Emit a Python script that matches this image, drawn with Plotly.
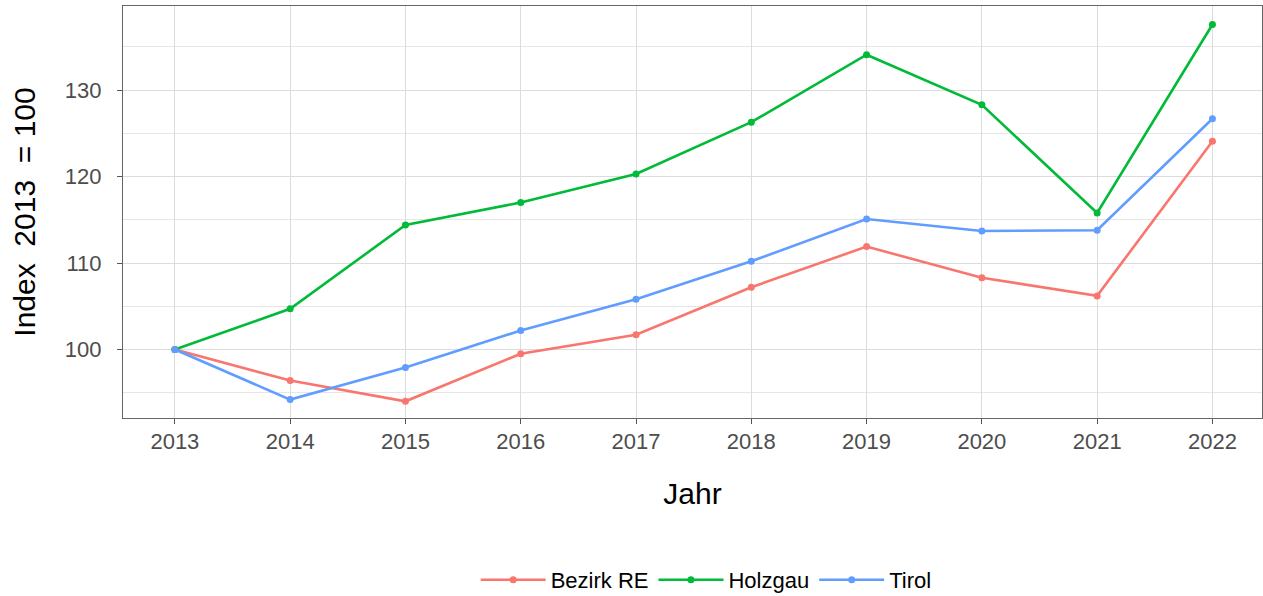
import plotly.graph_objects as go

years = [2013, 2014, 2015, 2016, 2017, 2018, 2019, 2020, 2021, 2022]
bezirk_re = [100, 96.4, 94.0, 99.5, 101.7, 107.2, 111.9, 108.3, 106.2, 124.1]
holzgau = [100, 104.7, 114.4, 117.0, 120.3, 126.3, 134.1, 128.3, 115.8, 137.6]
tirol = [100, 94.2, 97.9, 102.2, 105.8, 110.2, 115.1, 113.7, 113.8, 126.7]

series = [("Bezirk RE", bezirk_re, "#F8766D"),
          ("Holzgau", holzgau, "#00BA38"),
          ("Tirol", tirol, "#619CFF")]

font = "Liberation Sans, Arial, sans-serif"
fig = go.Figure()
for name, vals, col in series:
    fig.add_trace(go.Scatter(x=years, y=vals, name=name, mode="lines+markers",
                             line=dict(color=col, width=2.6),
                             marker=dict(color=col, size=7)))

fig.update_layout(
    width=1263, height=596,
    margin=dict(l=123, r=1, t=6, b=178),
    paper_bgcolor="white", plot_bgcolor="white",
    font=dict(family=font, color="#4D4D4D", size=22),
    showlegend=True,
    legend=dict(orientation="h", x=0.512, xanchor="center",
                yref="container", y=16 / 596, yanchor="middle",
                font=dict(size=22, color="black"), itemwidth=65),
    xaxis=dict(range=[2012.55, 2022.43], tickvals=years, ticktext=[str(y) for y in years],
               showgrid=True, gridcolor="#DCDCDC", gridwidth=1,
               showline=True, linecolor="#666666", linewidth=1.2, mirror=True,
               ticks="outside", ticklen=5, tickcolor="#555555",
               tickfont=dict(size=22, color="#4D4D4D"), zeroline=False,
               ticklabelstandoff=-2,
               title=dict(text="Jahr", font=dict(size=30, color="black"), standoff=30)),
    yaxis=dict(range=[92.07, 139.74], tickvals=[100, 110, 120, 130],
               showgrid=True, gridcolor="#DCDCDC", gridwidth=1,
               minor=dict(tickvals=[95, 105, 115, 125, 135], showgrid=True,
                          gridcolor="#E6E6E6", gridwidth=1),
               showline=True, linecolor="#666666", linewidth=1.2, mirror=True,
               ticks="outside", ticklen=5, tickcolor="#555555",
               tickfont=dict(size=22, color="#4D4D4D"), zeroline=False,
               ticklabelstandoff=11,
               title=dict(text="Index\u00a0 2013\u00a0 = 100", font=dict(size=30, color="black"),
                          standoff=20)),
)

fig.write_html("out.html", config={"displayModeBar": False},
               post_script="document.body.style.margin='0';")
